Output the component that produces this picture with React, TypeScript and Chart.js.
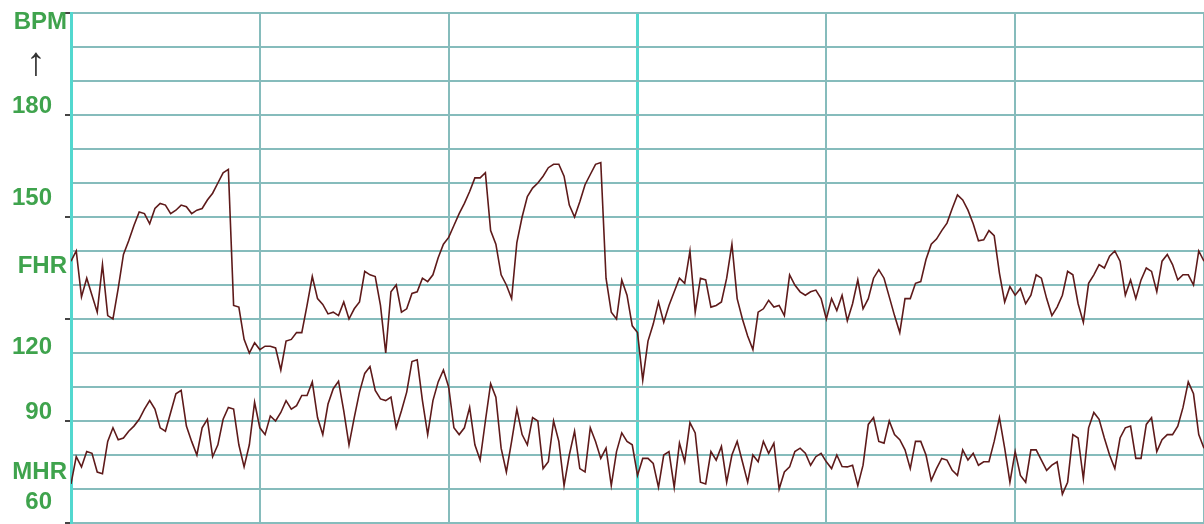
import React, { useEffect, useRef } from 'react';
import { Chart, registerables } from 'chart.js';

Chart.register(...registerables);

// Fetal heart rate trace (bpm), one sample per time step
const FHR: number[] = [
  137, 140, 126.5, 132, 127, 122, 136, 121, 120, 129, 139, 143, 147.5, 151.5, 151, 148, 152.5, 154, 153.5, 151,
  152, 153.5, 153, 151, 152, 152.5, 155, 157, 160, 163, 164, 124, 123.5, 114, 110, 113, 111,
  112, 112, 111.5, 105, 113.5, 114, 116, 116, 124, 132.5, 126, 124.3, 121.5, 122, 121, 125, 120, 123, 125, 134,
  133, 132.5, 124, 110, 128, 130, 122, 123, 127.5, 128, 132, 131, 133, 138, 142, 144,
  147.5, 151, 154, 157.5, 161.5, 161.5, 163, 146, 142, 133, 130, 126, 142.5, 150, 156, 158.5, 160, 162, 164.5, 165.5,
  165.5, 162, 153.5, 150, 154.5, 159.5, 162.5, 165.5, 166, 132, 122, 120, 131.5, 127, 118, 116,
  102, 113.5, 118.5, 125, 119, 124, 128, 132, 130.5, 140, 122, 132, 131.5, 123.5, 124, 125, 132, 142, 126, 120,
  115, 111, 122, 123, 125.5, 123.5, 124, 121, 133, 130, 128, 127, 128, 128.5, 126, 120,
  126, 122.5, 127, 119.5, 124.5, 131.5, 123, 126, 132, 134.5, 132, 126.5, 121, 116, 126, 126, 130.5, 131, 137.5, 142,
  143.5, 146, 148.2, 152.5, 156.5, 155, 152, 148, 143, 143.3, 146, 144.5, 133.5, 125, 129.5, 127,
  129, 124.5, 127, 133, 132, 126, 121, 123.5, 127, 134, 133, 124.5, 119, 130.5, 133, 136, 135, 138.5, 140, 137,
  127, 131.5, 126, 131.5, 135, 134, 128, 137, 139, 136, 131.5, 133, 133, 130, 140, 137,
];

// Maternal heart rate trace (bpm)
const MHR: number[] = [
  71.5, 79.5, 76.5, 81, 80.5, 75, 74.5, 84, 88, 84.5, 85, 87, 88.5, 90.5, 93.5, 96, 93.5, 88, 87, 92.5,
  98, 99, 88.5, 84, 80, 88, 90.5, 79.5, 83, 90.5, 94, 93.5, 83, 76.5, 83, 95.5, 88,
  86, 91.5, 90, 92.5, 96, 93.5, 94.5, 97.5, 97.5, 101.5, 91, 86, 95, 99.5, 101.7, 93, 83, 91, 98.5, 104,
  106, 99, 96.5, 96, 97, 88, 93, 98.5, 107.5, 108, 96, 86, 96, 101.5, 105, 100,
  88, 86, 88, 94, 83, 78.5, 90, 101, 97, 82, 75, 84, 93.5, 86, 83, 91, 90, 76, 78, 90,
  84, 71, 80, 87, 76, 75, 88, 84, 79, 82, 71, 81, 86.5, 84, 83, 74,
  79, 79, 77.5, 70.5, 80, 81, 70.5, 83.5, 78, 89.5, 86.5, 72, 71.5, 81, 78.5, 82.5, 72, 80, 84, 78,
  72, 80, 78, 84, 80.5, 83.5, 70, 75, 76.5, 81, 82, 80.5, 77, 79.5, 80.5, 78,
  76, 80, 76.6, 76.5, 77, 71, 77, 89, 91, 84, 83.5, 90, 86, 84.5, 81.5, 76, 84, 84, 80, 72.5,
  76, 79, 78.5, 75.5, 74, 81.5, 78.5, 80.5, 77, 78, 78, 84, 91, 82, 72, 81,
  74, 72, 81.5, 81.5, 78.5, 75.5, 77, 78, 68.5, 72, 86, 85, 73, 88, 92.5, 90.5, 85, 80, 76, 85,
  88, 88.5, 79, 79, 89, 91, 81, 84.5, 86, 86, 88.5, 94, 101.5, 98, 86, 82,
];

// Time axis: samples, with a major division every 36 samples
const X_MIN = 0;
const X_MAX = 216;
const X_STEP = 36;
const X_BRIGHT = [0, 108];

// BPM axis
const Y_MIN = 60;
const Y_MAX = 210;
const Y_STEP = 10;
const Y_MARK_EVERY = 30;

// Left-hand labels and the bpm value each sits beside
const axisLabels = ['BPM', '180', '150', 'FHR', '120', '90', 'MHR', '60'];
const axisLabelValues = [207.1, 182.6, 155.6, 135.6, 111.8, 92.4, 75, 66.2];
const arrowLabel = '↑';
const arrowValue = 194.8;

const GREEN = '#3fa34d';
const TRACE = '#5e1a1a';
const GRID = '#86bcbc';
const BRIGHT = '#52d8cf';

const labelPlugin = {
  id: 'bpmLabels',
  afterDraw(chart: any) {
    const { ctx } = chart;
    const y = chart.scales.y;
    ctx.save();
    ctx.font = 'bold 24px "Liberation Sans", Arial, sans-serif';
    ctx.fillStyle = GREEN;
    ctx.textBaseline = 'middle';
    ctx.textAlign = 'right';
    axisLabels.forEach((t, i) => {
      const isNum = /^\d+$/.test(t);
      ctx.fillText(t, isNum ? 52 : 67, y.getPixelForValue(axisLabelValues[i]));
    });
    ctx.font = '40px "Liberation Serif", serif';
    ctx.fillStyle = '#333333';
    ctx.textAlign = 'center';
    ctx.fillText(arrowLabel, 36, y.getPixelForValue(arrowValue));
    ctx.restore();
  },
};

export default function App() {
  const ref = useRef<HTMLCanvasElement | null>(null);

  useEffect(() => {
    if (!ref.current) return;
    const chart = new Chart(ref.current, {
      type: 'line',
      data: {
        datasets: [
          {
            label: 'FHR',
            data: FHR.map((v, i) => ({ x: i, y: v })),
            borderColor: TRACE,
            borderWidth: 1.6,
            pointRadius: 0,
            tension: 0,
          },
          {
            label: 'MHR',
            data: MHR.map((v, i) => ({ x: i, y: v })),
            borderColor: TRACE,
            borderWidth: 1.6,
            pointRadius: 0,
            tension: 0,
          },
        ],
      },
      options: {
        responsive: false,
        animation: false,
        layout: { padding: { top: 13, right: 0, bottom: 0, left: 0 } },
        plugins: { legend: { display: false }, tooltip: { enabled: false } },
        scales: {
          x: {
            type: 'linear',
            min: X_MIN,
            max: X_MAX,
            ticks: { display: false, stepSize: X_STEP },
            border: { display: false },
            grid: {
              drawTicks: false,
              color: (c: any) => (X_BRIGHT.includes(c.tick?.value) ? BRIGHT : GRID),
              lineWidth: (c: any) => (X_BRIGHT.includes(c.tick?.value) ? 3 : 2),
            },
            afterFit: (s: any) => {
              s.height = 1;
            },
          },
          y: {
            type: 'linear',
            min: Y_MIN,
            max: Y_MAX,
            ticks: { display: false, stepSize: Y_STEP },
            border: { display: true, color: BRIGHT, width: 3 },
            grid: {
              color: GRID,
              lineWidth: 2,
              drawTicks: true,
              tickLength: 6,
              tickWidth: 2,
              tickColor: (c: any) =>
                c.tick && Math.round(c.tick.value) % Y_MARK_EVERY === 0 ? '#444444' : 'rgba(0,0,0,0)',
            },
            afterFit: (s: any) => {
              s.width = 71;
            },
          },
        },
      },
      plugins: [labelPlugin],
    });
    return () => chart.destroy();
  }, []);

  return (
    <div style={{ position: 'fixed', left: 0, top: 0, width: 1204, height: 524, background: '#ffffff' }}>
      <canvas ref={ref} width={1204} height={524} />
    </div>
  );
}
